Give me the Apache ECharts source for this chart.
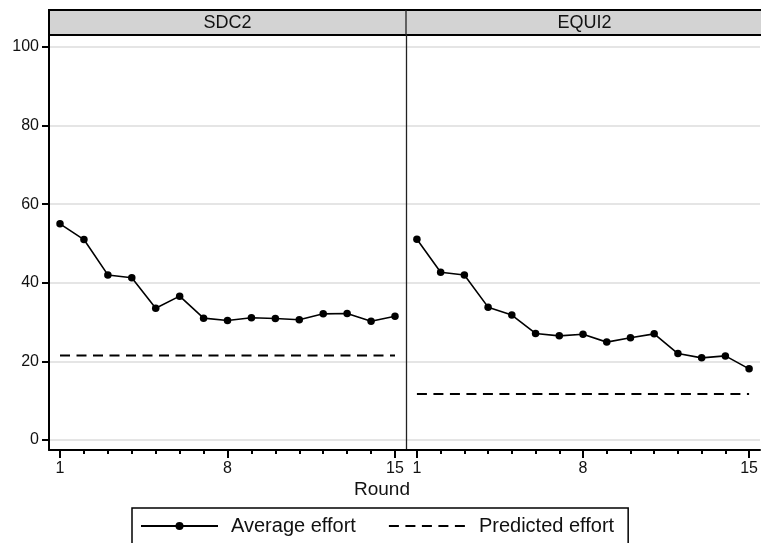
<!DOCTYPE html>
<html>
<head>
<meta charset="utf-8">
<script src="https://cdn.jsdelivr.net/npm/echarts@6/dist/echarts.min.js"></script>
<style>
  html, body { margin: 0; padding: 0; background: #fff; }
  #chart { width: 761px; height: 543px; }
</style>
</head>
<body>
<div id="chart"></div>
<script>
// Effort by round, two treatments
const rounds = [1, 2, 3, 4, 5, 6, 7, 8, 9, 10, 11, 12, 13, 14, 15];
const panels = ['SDC2', 'EQUI2'];
const averageSDC2 = [55.0, 51.0, 42.0, 41.3, 33.5, 36.6, 31.0, 30.4, 31.1, 30.9, 30.6, 32.1, 32.2, 30.2, 31.5];
const averageEQUI2 = [51.1, 42.7, 42.0, 33.8, 31.8, 27.1, 26.5, 26.9, 24.9, 26.0, 27.0, 22.0, 20.9, 21.4, 18.1];
const predictedSDC2 = 21.5;
const predictedEQUI2 = 11.7;
const yTicks = [0, 20, 40, 60, 80, 100];
const xLabels = [1, 8, 15];

const FONT = '"Liberation Sans", Arial, Helvetica, sans-serif';
const chart = echarts.init(document.getElementById('chart'), null, { renderer: 'canvas' });

const grids = [
  { left: 49, top: 35, width: 357, height: 415 },
  { left: 406, top: 35, width: 357, height: 415 }
];

const averages = [averageSDC2, averageEQUI2];
const predicted = [predictedSDC2, predictedEQUI2];

const xAxes = [];
const yAxes = [];
const series = [];

grids.forEach((g, i) => {
  // minor ticks at every round + axis line
  xAxes.push({
    type: 'value', gridIndex: i, position: 'bottom', min: 0.54, max: 15.46,
    axisLine: { show: true, onZero: false, lineStyle: { color: '#000', width: 2 } },
    axisTick: { show: true, length: 4, customValues: rounds, lineStyle: { color: '#000', width: 2 } },
    axisLabel: { show: false },
    splitLine: { show: false }
  });
  // major ticks and labels at 1, 8, 15
  xAxes.push({
    type: 'value', gridIndex: i, position: 'bottom', min: 0.54, max: 15.46,
    axisLine: { show: false, onZero: false },
    axisTick: { show: true, length: 8, customValues: xLabels, lineStyle: { color: '#000', width: 2 } },
    axisLabel: { show: true, customValues: xLabels, color: '#111', fontSize: 16, fontFamily: FONT, margin: 11 },
    splitLine: { show: false }
  });
  yAxes.push({
    type: 'value', gridIndex: i, min: -2.55, max: 103.05,
    axisLine: { show: true, onZero: false, lineStyle: i === 0 ? { color: '#000', width: 2 } : { color: '#222', width: 1.3 } },
    axisTick: { show: i === 0, length: 7, customValues: yTicks, lineStyle: { color: '#000', width: 2 } },
    axisLabel: { show: i === 0, customValues: yTicks, color: '#111', fontSize: 16, fontFamily: FONT, margin: 10 },
    splitLine: { show: true, lineStyle: { color: '#dcdcdc', width: 1.5 } }
  });

  series.push({
    name: 'Average effort', type: 'line',
    xAxisIndex: i * 2, yAxisIndex: i,
    data: rounds.map((r, k) => [r, averages[i][k]]),
    symbol: 'circle', symbolSize: 7.5,
    itemStyle: { color: '#000' },
    lineStyle: { color: '#000', width: 1.6 },
    z: 3
  });
  series.push({
    name: 'Predicted effort', type: 'line',
    xAxisIndex: i * 2, yAxisIndex: i,
    data: rounds.map(r => [r, predicted[i]]),
    symbol: 'none',
    itemStyle: { color: '#000' },
    lineStyle: { color: '#000', width: 2, type: [10, 6.5] },
    z: 2
  });
});

const option = {
  animation: false,
  backgroundColor: '#fff',
  grid: grids,
  xAxis: xAxes,
  yAxis: yAxes,
  series: series,
  legend: {
    data: [
      { name: 'Average effort' },
      { name: 'Predicted effort', itemStyle: { opacity: 0 } }
    ],
    left: 132, top: 508,
    orient: 'horizontal',
    itemWidth: 77, itemHeight: 10, itemGap: 32,
    padding: [8, 14, 20, 8],
    borderColor: '#000', borderWidth: 1.5,
    textStyle: { fontSize: 20, fontFamily: FONT, color: '#111', padding: [0, 0, 0, 8] }
  },
  graphic: [
    // panel header strip
    { type: 'rect', shape: { x: 49, y: 10, width: 714, height: 25 },
      style: { fill: '#d3d3d3', stroke: null }, z: 0 },
    { type: 'line', shape: { x1: 48, y1: 10, x2: 763, y2: 10 }, style: { stroke: '#000', lineWidth: 2 } },
    { type: 'line', shape: { x1: 48, y1: 35, x2: 763, y2: 35 }, style: { stroke: '#000', lineWidth: 2 } },
    { type: 'line', shape: { x1: 49, y1: 10, x2: 49, y2: 35 }, style: { stroke: '#000', lineWidth: 2 } },
    { type: 'line', shape: { x1: 406, y1: 10, x2: 406, y2: 35 }, style: { stroke: '#222', lineWidth: 1.3 } },
    { type: 'text', x: 227.5, y: 23,
      style: { text: panels[0], font: '18px ' + FONT, fill: '#111', textAlign: 'center', textVerticalAlign: 'middle' } },
    { type: 'text', x: 584.5, y: 23,
      style: { text: panels[1], font: '18px ' + FONT, fill: '#111', textAlign: 'center', textVerticalAlign: 'middle' } },
    // shared axis title
    { type: 'text', x: 382, y: 490,
      style: { text: 'Round', font: '19px ' + FONT, fill: '#111', textAlign: 'center', textVerticalAlign: 'middle' } }
  ]
};

chart.setOption(option);
</script>
</body>
</html>
